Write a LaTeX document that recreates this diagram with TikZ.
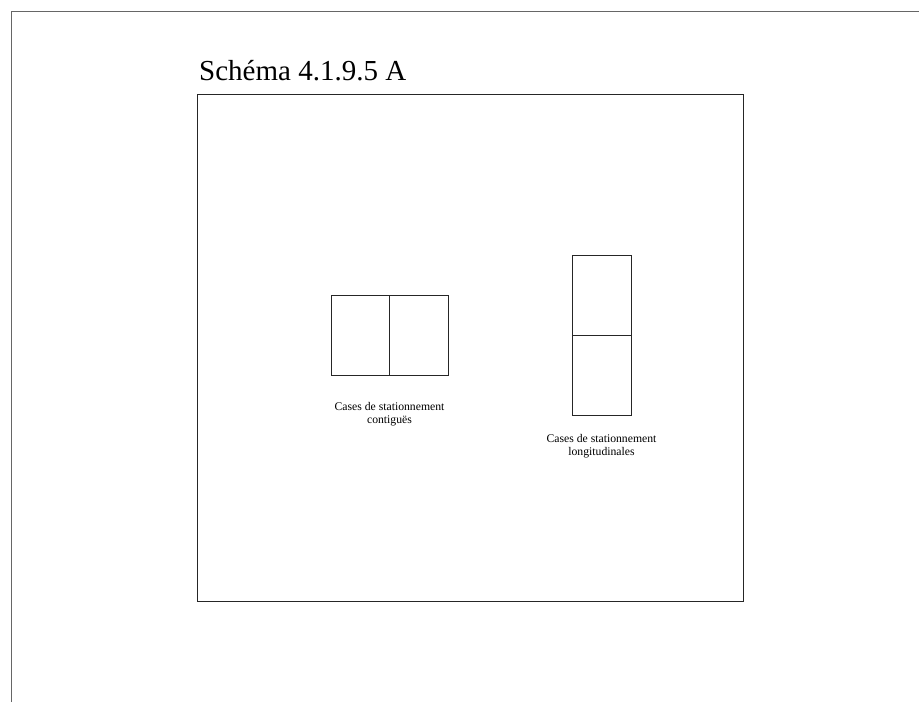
\documentclass[tikz,border=0pt]{standalone}
\usepackage{fontspec}
\setmainfont{Liberation Serif}
\begin{document}
\begin{tikzpicture}[x=1pt,y=-1pt,
  frame/.style={line width=1pt,draw=black!85},
  edge/.style={line width=0.9pt,draw=black!60},
  lbl/.style={font=\fontsize{11.7}{13.6}\selectfont,align=center,inner sep=0pt,anchor=north}]
\useasboundingbox (0,0) rectangle (919,702);
\draw[edge] (11,702) -- (11,11) -- (919,11);
\node[font=\fontsize{29}{34}\selectfont,anchor=base west,inner sep=0pt] (title) at (199,80) {Schéma 4.1.9.5 A};
\draw[frame] (197,94) rectangle (743,601);
% contiguous spaces
\draw[frame] (331,295) rectangle (448,375);
\draw[frame] (389.5,295) -- (389.5,375);
\node[lbl] (l1) at (389.5,402) {Cases de stationnement\\contiguës};
% longitudinal spaces
\draw[frame] (572,255) rectangle (631,415);
\draw[frame] (572,335) -- (631,335);
\node[lbl] (l2) at (601.5,434) {Cases de stationnement\\longitudinales};
\end{tikzpicture}
\end{document}
